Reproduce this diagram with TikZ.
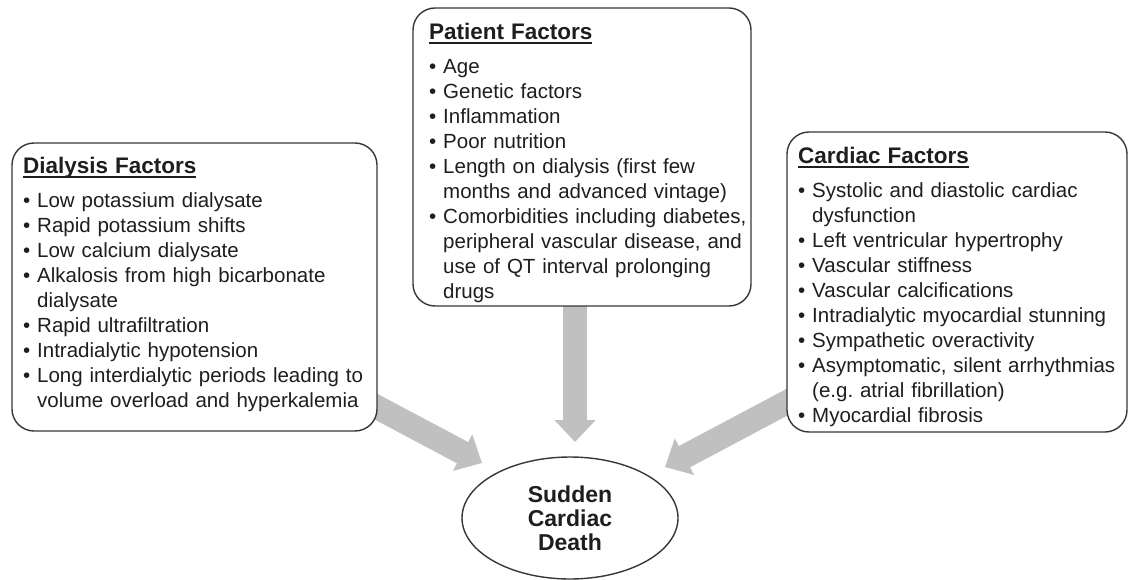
\documentclass[tikz,border=0pt]{standalone}
\usepackage{fontspec}
\setmainfont{Liberation Sans}
\usetikzlibrary{arrows.meta,shapes.geometric,backgrounds}
\definecolor{txt}{RGB}{30,30,30}
\definecolor{edgec}{RGB}{55,55,55}
\definecolor{arrc}{RGB}{192,192,192}
\newlength\bhang
\newcommand\ttl[1]{\setbox0\hbox{\fontsize{22.5}{25}\selectfont\bfseries #1}\noindent\rule{0pt}{18pt}\rlap{\rule[-4.5pt]{\wd0}{1.8pt}}\box0\par\vspace{9pt}}
\newcommand\itm{\par\settowidth\bhang{\textbullet\ }\hangindent=\bhang\hangafter=1\noindent\textbullet\ }
\begin{document}
\begin{tikzpicture}[x=1pt,y=-1pt]
\tikzset{
  factorbox/.style={draw=edgec, line width=1.4pt, rounded corners=22pt, fill=white, inner sep=0pt},
  factortext/.style={anchor=north west, inner sep=0pt, text width=420pt, align=left, text=txt,
     font=\fontsize{20.5}{25}\selectfont\frenchspacing},
  bigarrow/.style={draw=arrc, line width=24pt, -{Triangle[length=22pt,width=40pt]}},
  endbox/.style={ellipse, draw=edgec, line width=1.4pt, fill=white, inner sep=0pt,
     minimum width=216pt, minimum height=122pt, align=center, text=txt,
     font=\fontsize{23}{24}\selectfont\bfseries}
}
\useasboundingbox (0,0) rectangle (1129,580);

% boxes
\node[factorbox, minimum width=365pt, minimum height=288pt] (dial) at (194.5,287) {};
\node[factorbox, minimum width=338pt, minimum height=298pt] (pat) at (582,157) {};
\node[factorbox, minimum width=340pt, minimum height=300pt] (card) at (957,282) {};
\node[endbox] (scd) at (570,518) {Sudden\\Cardiac\\Death};

% texts
\node[factortext] (dialtxt) at (23,155) {%
\ttl{Dialysis Factors}
\itm Low potassium dialysate
\itm Rapid potassium shifts
\itm Low calcium dialysate
\itm Alkalosis from high bicarbonate\newline dialysate
\itm Rapid ultrafiltration
\itm Intradialytic hypotension
\itm Long interdialytic periods leading to\newline volume overload and hyperkalemia\par};

\node[factortext] (pattxt) at (429,21) {%
\ttl{Patient Factors}
\itm Age
\itm Genetic factors
\itm Inflammation
\itm Poor nutrition
\itm Length on dialysis (first few\newline months and advanced vintage)
\itm Comorbidities including diabetes,\newline peripheral vascular disease, and\newline use of QT interval prolonging\newline drugs\par};

\node[factortext] (cardtxt) at (798,145) {%
\ttl{Cardiac Factors}
\itm Systolic and diastolic cardiac\newline dysfunction
\itm Left ventricular hypertrophy
\itm Vascular stiffness
\itm Vascular calcifications
\itm Intradialytic myocardial stunning
\itm Sympathetic overactivity
\itm Asymptomatic, silent arrhythmias\newline (e.g. atrial fibrillation)
\itm Myocardial fibrosis\par};

% arrows
\coordinate (dialstart) at (305,369);
\coordinate (dialtip) at (482,463);
\coordinate (patstart) at (575,250);
\coordinate (pattip) at (575,442);
\coordinate (cardstart) at (842,373);
\coordinate (cardtip) at (665,467);
\begin{scope}[on background layer]
\draw[bigarrow] (dialstart) -- (dialtip);
\draw[bigarrow] (patstart) -- (pattip);
\draw[bigarrow] (cardstart) -- (cardtip);
\end{scope}
\end{tikzpicture}
\end{document}
